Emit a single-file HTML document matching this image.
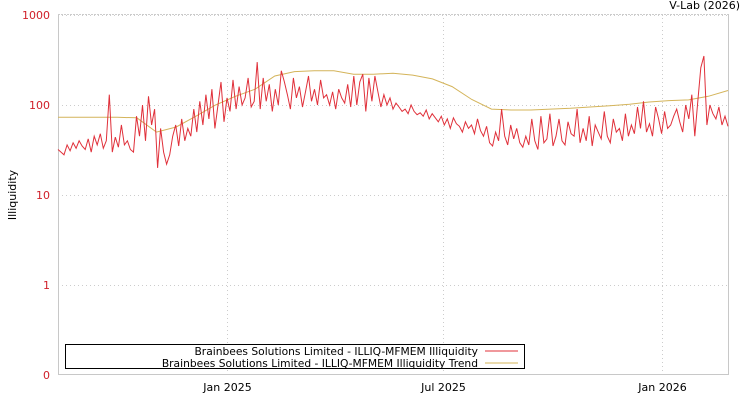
<!DOCTYPE html>
<html><head><meta charset="utf-8"><style>
body{margin:0;background:#fff;}
svg{display:block;font-family:"DejaVu Sans","Liberation Sans",sans-serif;}
</style></head><body>
<svg id="chart" width="750" height="400">
<text x="740" y="9" font-size="11" text-anchor="end" fill="#000">V-Lab (2026)</text>
<text transform="translate(16,195) rotate(-90)" font-size="11" text-anchor="middle" fill="#000">Illiquidity</text>
<g id="grid"></g>
<g id="axes"></g>
<g id="series"></g>
<g>
<rect x="65.5" y="344.5" width="459" height="24" fill="#fff" stroke="#000" stroke-width="1"/>
<text x="478" y="355" font-size="10.7" text-anchor="end">Brainbees Solutions Limited - ILLIQ-MFMEM Illiquidity</text>
<line x1="485" y1="351" x2="518" y2="351" stroke="#e0303a"/>
<text x="478" y="367" font-size="10.7" text-anchor="end">Brainbees Solutions Limited - ILLIQ-MFMEM Illiquidity Trend</text>
<line x1="485" y1="363" x2="518" y2="363" stroke="#d4b45a"/>
</g>
</svg>
<script>
const yTicks=[1000,100,10,1];
const yTickLabels=["1000","100","10","1"];
const xTickDates=["2025-01-01","2025-07-01","2026-01-01"];
const xTickLabels=["Jan 2025","Jul 2025","Jan 2026"];
const startDate="2024-08-12", endDate="2026-02-25";
const illiq=[32,30,28,36,31,38,33,40,35,32,42,30,45,36,48,33,40,130,30,44,34,60,36,40,32,30,
75,45,100,40,125,60,90,20,55,30,22,28,45,60,35,70,40,55,
45,90,50,110,60,130,70,150,55,100,180,65,120,
85,190,90,160,100,120,200,95,110,300,
90,200,110,170,85,150,100,240,180,130,90,200,120,160,95,140,210,110,150,100,190,120,130,
100,140,90,150,120,105,170,95,210,100,180,220,85,200,110,210,140,95,130,100,120,90,105,
95,85,90,80,100,85,78,82,75,88,70,80,72,
65,75,60,70,55,72,62,58,50,65,55,60,48,70,52,45,58,
38,35,50,40,90,45,36,60,42,55,
38,34,45,36,70,40,32,75,38,42,80,35,45,70,40,36,65,48,45,90,38,55,40,75,35,60,50,42,85,45,38,70,50,55,40,80,45,60,48,95,
55,110,50,62,45,95,70,48,85,55,60,75,90,65,50,100,70,130,45,110,
260,350,60,100,80,70,95,60,75,58];
const trend=[73,73,73,73,72,50,57,75,100,125,150,210,235,240,240,220,220,225,215,195,160,115,90,88,88,90,92,95,98,102,108,112,114,125,145];

const L=58,R=728,T=14,B=374;
const NS="http://www.w3.org/2000/svg";
const t0=Date.parse(startDate),t1=Date.parse(endDate);
function xDate(s){return L+(Date.parse(s)-t0)/(t1-t0)*(R-L);}
function xIdx(i,n){return L+i/(n-1)*(R-L);}
function y(v){return v<=0?B:285-90*Math.log10(v);}
function mk(tag,attrs,parent){const e=document.createElementNS(NS,tag);for(const k in attrs)e.setAttribute(k,attrs[k]);parent.appendChild(e);return e;}
const grid=document.getElementById('grid'),axes=document.getElementById('axes'),series=document.getElementById('series');
yTicks.forEach((v,i)=>{
  const g=mk('line',{x1:L,x2:R,y1:y(v)+0.5,y2:y(v)+0.5,stroke:'#ccc','stroke-dasharray':'1,3'},grid);
  
  
  const t=mk('text',{x:50,y:y(v)+4,'font-size':11,'text-anchor':'end',fill:'#d0202a'},axes);
  t.textContent=yTickLabels[i];
  
  
});
const zeroLabel=mk('text',{x:50,y:B+5,'font-size':11,'text-anchor':'end',fill:'#d0202a'},axes);
zeroLabel.textContent="0";


xTickDates.forEach((d,i)=>{
  const x=Math.round(xDate(d))+0.5;
  const g=mk('line',{x1:x,x2:x,y1:T,y2:B,stroke:'#ccc','stroke-dasharray':'1,3'},grid);
  
  
  const t=mk('text',{x:x,y:391,'font-size':11,'text-anchor':'middle',fill:'#000'},axes);
  t.textContent=xTickLabels[i];
  
  
});
const frame=mk('path',{d:`M${L+.5},${T}V${B+.5}H${R+.5}V${T}`,fill:'none',stroke:'#c8c8c8'},axes);


const topBorder=mk('line',{x1:L,x2:R,y1:T+.5,y2:T+.5,stroke:'#ccc','stroke-dasharray':'2,1'},axes);


const tp=trend.map((v,i)=>xIdx(i,trend.length).toFixed(1)+','+y(v).toFixed(1)).join(' ');
const tl=mk('polyline',{points:tp,fill:'none',stroke:'#d4b45a','stroke-width':1},series);


const ip=illiq.map((v,i)=>xIdx(i,illiq.length).toFixed(1)+','+y(v).toFixed(1)).join(' ');
const il=mk('polyline',{points:ip,fill:'none',stroke:'#e0303a','stroke-width':1},series);


</script>
</body></html>
